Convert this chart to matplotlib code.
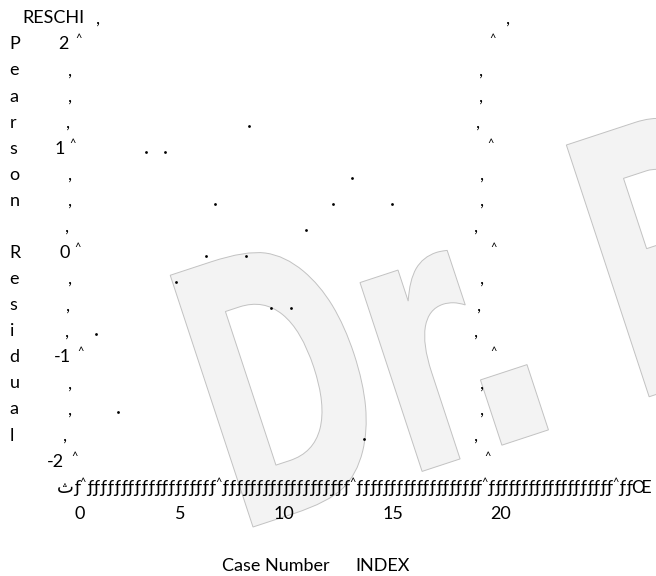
import matplotlib
matplotlib.use("Agg")
import matplotlib.pyplot as plt
import numpy as np
from matplotlib.transforms import Affine2D, blended_transform_factory, offset_copy
from matplotlib.textpath import TextPath
from matplotlib.patches import PathPatch
from matplotlib.font_manager import FontProperties

# data: Pearson residual by case number
case_no = [1, 2, 3, 4, 5, 6, 7, 8, 9, 10, 11, 12, 13, 14, 15, 16]
pearson_resid = [-0.75, -1.5, 1.0, 1.0, -0.25, 0.0, 0.5, 0.0, 1.25,
                 -0.5, -0.5, 0.25, 0.5, 0.75, -1.75, 0.5]
ytick_labels = ["2", "1", "0", "-1", "-2"]
xtick_labels = ["0", "5", "10", "15", "20"]
ylabel_letters = list("Pearson") + [""] + list("Residual")

plt.rcParams['font.family'] = ['Lato', 'DejaVu Sans']
plt.rcParams['font.size'] = 13

W, H = 656, 576
fig = plt.figure(figsize=(W / 100, H / 100), dpi=100)
ax = fig.add_axes([0, 0, 1, 1])
# 19.7 px per case, 104.3 px per residual unit
ax.set_xlim(-76 / 19.7, (W - 76) / 19.7)
ax.set_ylim(-(H - 256) / 104.3, 256 / 104.3)
ax.axis('off')

pix = Affine2D().scale(1 / W, 1 / H) + fig.transFigure
rowT = offset_copy(blended_transform_factory(pix, ax.transData), fig=fig, y=-2, units='dots')
caretT = offset_copy(blended_transform_factory(pix, ax.transData), fig=fig, y=5, units='dots')


def caret(x, r):
    ax.text(x, r, "^", transform=caretT, ha='center', va='baseline', fontsize=8)


rows = 2 - 0.25 * np.arange(17)

# left column: vertical title letters
for k, ch in enumerate(ylabel_letters):
    if ch:
        ax.text(9.5, rows[k], ch, transform=rowT, ha='left', va='baseline')

# left axis characters
left_x = [79, 70, 70, 68, 73, 70, 70, 67, 78, 70, 68, 67, 81, 70, 70, 65, 75]
lab_right = {0: 69, 4: 65, 8: 70, 12: 71, 16: 64}
for k, r in enumerate(rows):
    if k % 4 == 0:
        ax.text(lab_right[k], r, ytick_labels[k // 4], transform=rowT, ha='right', va='baseline')
        caret(left_x[k], r)
    else:
        ax.text(left_x[k], r, ",", transform=rowT, ha='center', va='baseline')

# right axis characters
right_x = [493, 481, 481, 478, 491, 482, 482, 476, 494, 482, 479, 476, 494, 482, 482, 476, 488]
for k, r in enumerate(rows):
    if k % 4 == 0:
        caret(right_x[k], r)
    else:
        ax.text(right_x[k], r, ",", transform=rowT, ha='center', va='baseline')

# top line
ax.text(22, 2.25, "RESCHI", transform=rowT, ha='left', va='baseline')
ax.text(98, 2.25, ",", transform=rowT, ha='center', va='baseline')
ax.text(508, 2.25, ",", transform=rowT, ha='center', va='baseline')

# bottom axis line, one glyph at a time
tick_px = [83, 219, 353, 485, 616]
ax.text(65.5, -2.25, "\u062b", transform=rowT, ha='center', va='baseline')
ax.text(77, -2.25, "\u0192", transform=rowT, ha='center', va='baseline')
for i, t in enumerate(tick_px):
    caret(t, -2.25)
    if i < len(tick_px) - 1:
        for xx in np.linspace(t, tick_px[i + 1], 21)[1:-1]:
            ax.text(xx, -2.25, "\u0192", transform=rowT, ha='center', va='baseline')
ax.text(622.5, -2.25, "\u0192", transform=rowT, ha='center', va='baseline')
ax.text(629, -2.25, "\u0192", transform=rowT, ha='center', va='baseline')
ax.text(640.5, -2.25, "\u0152", transform=rowT, ha='center', va='baseline')

label_px = [80, 180, 284, 393, 501]
for lab, xx in zip(xtick_labels, label_px):
    ax.text(xx, -2.5, lab, transform=rowT, ha='center', va='baseline')

ax.text(222, -3.0, "Case Number", transform=rowT, ha='left', va='baseline')
ax.text(355, -3.0, "INDEX", transform=rowT, ha='left', va='baseline')

# points; each text row of the original plot is shifted a little sideways
row_shift = {1.25: -4, 1.0: 10.5, 0.5: 1, 0.25: -6, 0.0: 12, -0.25: 2,
             -0.5: -1.5, -1.5: 3, -1.75: -7}
for r in sorted(set(pearson_resid)):
    xs = [c for c, v in zip(case_no, pearson_resid) if v == r]
    ys = [v for v in pearson_resid if v == r]
    tr = offset_copy(ax.transData, fig=fig, x=row_shift.get(r, 0), units='dots')
    ax.plot(xs, ys, ls='none', marker='o', ms=2.0, color='black',
            mec='none', zorder=5, transform=tr)

# watermark "Dr. P"
wm_font = FontProperties(family='DejaVu Sans', weight='bold')
d_ext = TextPath((0, 0), "D", size=1, prop=wm_font).get_extents()
sy = 265 / d_ext.height
glyphs = [("D", 0, 150), ("r", 178, 93), (".", 262, 49), ("P", 417, 140)]
for ch, du, tw in glyphs:
    tp = TextPath((0, 0), ch, size=1, prop=wm_font)
    ext = tp.get_extents()
    sx = tw / ext.width
    tr = (Affine2D().translate(-ext.x0, 0).scale(sx, sy).translate(du, 0)
          .rotate_deg(18.2).translate(253, H - 527))
    patch = PathPatch(tr.transform_path(tp), facecolor='#f3f3f3', edgecolor='#c2c2c2',
                      lw=0.7, transform=pix, zorder=0)
    ax.add_patch(patch)

fig.savefig("out.png", dpi=100, facecolor='white')
